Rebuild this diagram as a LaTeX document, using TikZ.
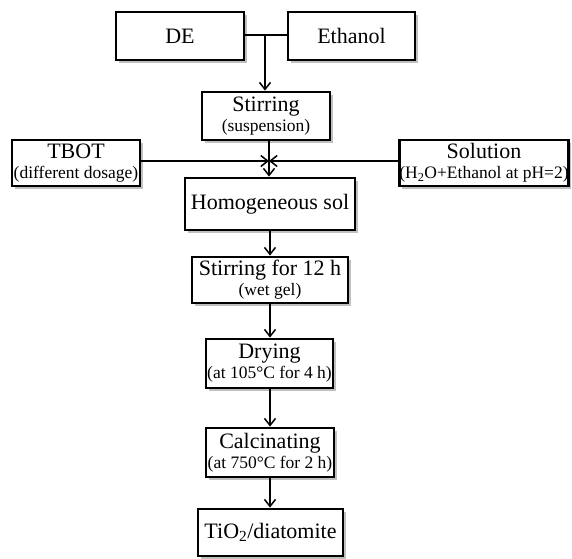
\documentclass[tikz,border=0pt]{standalone}
\usepackage{fontspec}
\setmainfont{Liberation Serif}
\usetikzlibrary{arrows.meta,shadows}
\newcommand{\mainsz}{\fontsize{22}{23}\selectfont}
\newcommand{\subsz}{\fontsize{17.5}{19}\selectfont}
\tikzset{
  boxnode/.style={draw=black, line width=2.8pt, fill=white, rectangle, align=center,
    inner sep=0pt, font=\mainsz,
    drop shadow={shadow xshift=2.6pt, shadow yshift=-2.6pt, fill=black!45, opacity=0.55}},
  conn/.style={line width=1.7pt, draw=black},
  arr/.style={conn, -{Straight Barb[length=7pt,width=11pt,line width=1.5pt]}}
}
\begin{document}
\begin{tikzpicture}[x=1pt,y=-1pt]
\useasboundingbox (0,0) rectangle (572,558);
\node[boxnode, minimum width=128pt, minimum height=48pt] (de) at (180,36) {DE};
\node[boxnode, minimum width=127pt, minimum height=48pt] (eth) at (351.5,36) {Ethanol};
\node[boxnode, minimum width=128pt, minimum height=48pt] (stir) at (266,116) {Stirring\\[-3pt]{\subsz (suspension)}};
\node[boxnode, minimum width=128pt, minimum height=46pt] (tbot) at (76,163) {TBOT\\[-3pt]{\subsz (different dosage)}};
\node[boxnode, minimum width=168pt, minimum height=46pt] (sol) at (484,163) {Solution\\[-3pt]{\subsz (H\textsubscript{2}O+Ethanol at pH=2)}};
\node[boxnode, minimum width=170pt, minimum height=52pt] (homo) at (270,204) {Homogeneous sol};
\node[boxnode, minimum width=156pt, minimum height=46pt] (stir12) at (270,280) {Stirring  for 12 h\\[-3pt]{\subsz (wet gel)}};
\node[boxnode, minimum width=127pt, minimum height=49pt] (dry) at (269.5,363.5) {Drying\\[-3pt]{\subsz (at 105°C for 4 h)}};
\node[boxnode, minimum width=128pt, minimum height=49pt] (calc) at (270,452.5) {Calcinating\\[-3pt]{\subsz (at 750°C for 2 h)}};
\node[boxnode, minimum width=145pt, minimum height=47pt] (tio) at (270.5,532.5) {TiO\textsubscript{2}/diatomite};
% connectors
\coordinate (j) at (265,35);
\coordinate (c) at (269,161);
\coordinate (v) at (270,0);
\draw[conn] (de.east |- j) -- (eth.west |- j);
\draw[arr] (j) -- (j |- stir.north);
\draw[arr] (stir.south -| c) -- (homo.north -| c);
\draw[arr] (tbot.east |- c) -- (c);
\draw[arr] (sol.west |- c) -- (c);
\draw[arr] (homo.south -| v) -- (stir12.north -| v);
\draw[arr] (stir12.south -| v) -- (dry.north -| v);
\draw[arr] (dry.south -| v) -- (calc.north -| v);
\draw[arr] (calc.south -| v) -- (tio.north -| v);
\end{tikzpicture}
\end{document}
